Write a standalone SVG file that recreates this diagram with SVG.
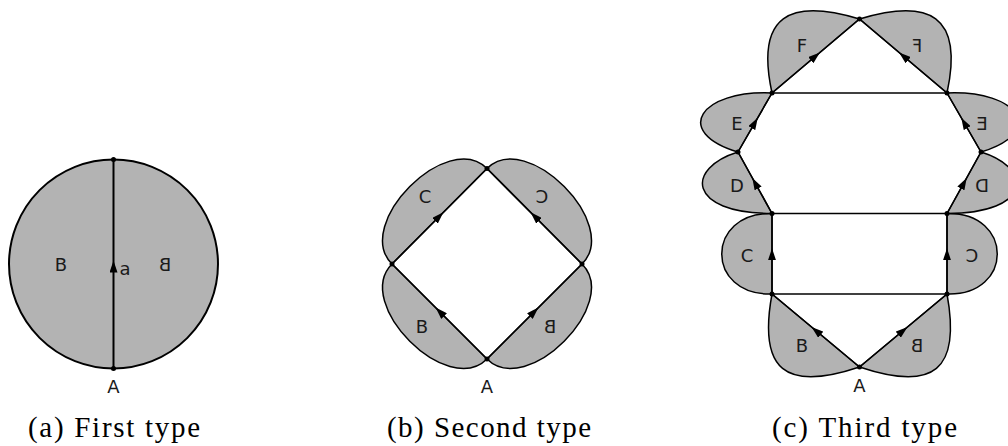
<svg xmlns="http://www.w3.org/2000/svg" width="1008" height="446" viewBox="0 0 1008 446">
<defs>
<style>
.lobe{fill:#b3b3b3;stroke:#000;stroke-width:1.5;stroke-linejoin:round}
.edge{fill:none;stroke:#000;stroke-width:1.5;marker-mid:url(#arr)}
.line{fill:none;stroke:#000;stroke-width:1.5}
.lbl{font-family:"DejaVu Sans",sans-serif;font-size:18px;fill:#1a1a1a;text-anchor:middle}
.cap{font-family:"Liberation Serif",serif;font-size:29px;fill:#000}
.dot{fill:#000}
</style>
<marker id="arr" viewBox="0 0 12 8" refX="6.5" refY="4" markerWidth="12" markerHeight="8" markerUnits="userSpaceOnUse" orient="auto">
<path d="M0,0 L12,4 L0,8 z" fill="#000"/>
</marker>
</defs>

<g id="fig-a">
<circle cx="113.5" cy="264" r="104.5" fill="#b3b3b3" stroke="#000" stroke-width="2"/>
<g id="a-connectors">
<path class="edge" style="stroke-width:2" d="M113.5,368.5 L113.5,266 L113.5,159.5"/>
</g>
<circle class="dot" cx="113.5" cy="159.5" r="2.5"/>
<circle class="dot" cx="113.5" cy="368.5" r="2.5"/>
<text class="lbl" x="61" y="271">B</text>
<text class="lbl" transform="translate(165,271) scale(-1,1)">B</text>
<text class="lbl" x="125" y="275">a</text>
<text class="lbl" x="113.5" y="393">A</text>
<text class="cap" x="28" y="437" textLength="172">(a) First type</text>
</g>

<g id="fig-b">
<path class="lobe" d="M392,264 C352.4,224.4 447.4,128.9 487,168.5 Z"/>
<path class="lobe" d="M582,264 C621.6,224.4 526.6,128.9 487,168.5 Z"/>
<path class="lobe" d="M392,264 C352.4,303.6 447.4,398.6 487,359 Z"/>
<path class="lobe" d="M582,264 C621.6,303.6 526.6,398.6 487,359 Z"/>
<g id="b-connectors">
<path class="edge" d="M487,359 L439.5,311.5 L392,264"/>
<path class="edge" d="M487,359 L534.5,311.5 L582,264"/>
<path class="edge" d="M392,264 L439.5,216.25 L487,168.5"/>
<path class="edge" d="M582,264 L534.5,216.25 L487,168.5"/>
</g>
<circle class="dot" cx="487" cy="168.5" r="2.5"/>
<circle class="dot" cx="392" cy="264" r="2.5"/>
<circle class="dot" cx="582" cy="264" r="2.5"/>
<circle class="dot" cx="487" cy="359" r="2.5"/>
<text class="lbl" x="425" y="203">C</text>
<text class="lbl" transform="translate(542,203) scale(-1,1)">C</text>
<text class="lbl" x="422" y="333">B</text>
<text class="lbl" transform="translate(550,333) scale(-1,1)">B</text>
<text class="lbl" x="487" y="393">A</text>
<text class="cap" x="387" y="437" textLength="204">(b) Second type</text>
</g>

<g id="fig-c">
<path class="lobe" d="M772,294 C758,370 785,392 859.5,367 Z"/>
<path class="lobe" d="M947,294 C961,370 934,392 859.5,367 Z"/>
<path class="lobe" d="M772,213.5 C705,212 705,296 772,294 Z"/>
<path class="lobe" d="M947,213.5 C1014,212 1014,296 947,294 Z"/>
<path class="lobe" d="M738,152 C686,168 686,213 772,213.5 Z"/>
<path class="lobe" d="M981,152 C1033,168 1033,213 947,213.5 Z"/>
<path class="lobe" d="M772,93 C700,90 672,132 738,152 Z"/>
<path class="lobe" d="M947,93 C1019,90 1047,132 981,152 Z"/>
<path class="lobe" d="M772,93 C755,15 790,-2 859.5,19 Z"/>
<path class="lobe" d="M947,93 C964,15 929,-2 859.5,19 Z"/>
<g id="c-connectors">
<path class="line" d="M772,294 L947,294"/>
<path class="line" d="M772,213.5 L947,213.5"/>
<path class="line" d="M772,93 L947,93"/>
<path class="edge" d="M859.5,367 L815.75,330.5 L772,294"/>
<path class="edge" d="M859.5,367 L903.25,330.5 L947,294"/>
<path class="edge" d="M772,294 L772,253.75 L772,213.5"/>
<path class="edge" d="M947,294 L947,253.75 L947,213.5"/>
<path class="edge" d="M772,213.5 L755,182.75 L738,152"/>
<path class="edge" d="M947,213.5 L964,182.75 L981,152"/>
<path class="edge" d="M738,152 L755,122.5 L772,93"/>
<path class="edge" d="M981,152 L964,122.5 L947,93"/>
<path class="edge" d="M772,93 L815.75,56 L859.5,19"/>
<path class="edge" d="M947,93 L903.25,56 L859.5,19"/>
</g>
<circle class="dot" cx="859.5" cy="367" r="2.5"/>
<circle class="dot" cx="772" cy="294" r="2.5"/>
<circle class="dot" cx="947" cy="294" r="2.5"/>
<circle class="dot" cx="772" cy="213.5" r="2.5"/>
<circle class="dot" cx="947" cy="213.5" r="2.5"/>
<circle class="dot" cx="738" cy="152" r="2.5"/>
<circle class="dot" cx="981" cy="152" r="2.5"/>
<circle class="dot" cx="772" cy="93" r="2.5"/>
<circle class="dot" cx="947" cy="93" r="2.5"/>
<circle class="dot" cx="859.5" cy="19" r="2.5"/>
<text class="lbl" x="802" y="52">F</text>
<text class="lbl" transform="translate(917,52) scale(-1,1)">F</text>
<text class="lbl" x="737" y="130">E</text>
<text class="lbl" transform="translate(982,130) scale(-1,1)">E</text>
<text class="lbl" x="737" y="192">D</text>
<text class="lbl" transform="translate(982,192) scale(-1,1)">D</text>
<text class="lbl" x="747" y="262">C</text>
<text class="lbl" transform="translate(972,262) scale(-1,1)">C</text>
<text class="lbl" x="802" y="352">B</text>
<text class="lbl" transform="translate(917,352) scale(-1,1)">B</text>
<text class="lbl" x="859.5" y="392">A</text>
<text class="cap" x="772" y="437" textLength="185">(c) Third type</text>
</g>
</svg>
